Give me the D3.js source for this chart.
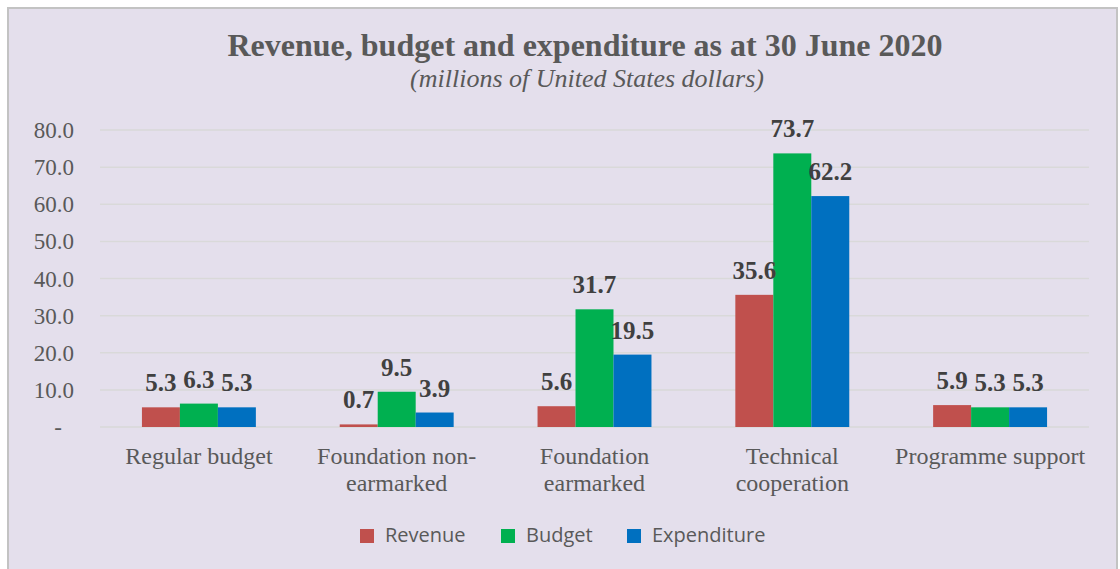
<!DOCTYPE html>
<html>
<head>
<meta charset="utf-8">
<script src="https://cdn.jsdelivr.net/npm/d3@7"></script>
<style>
  html, body { margin: 0; padding: 0; background: #fff; }
  svg { display: block; }
</style>
</head>
<body>
<script>
// Revenue, budget and expenditure grouped bars

const categories = ["Regular budget", "Foundation non-earmarked", "Foundation earmarked", "Technical cooperation", "Programme support"];
const categoryLines = [["Regular budget"], ["Foundation non-", "earmarked"], ["Foundation", "earmarked"], ["Technical", "cooperation"], ["Programme support"]];
const seriesNames = ["Revenue", "Budget", "Expenditure"];
const revenue = [5.3, 0.7, 5.6, 35.6, 5.9];
const budget = [6.3, 9.5, 31.7, 73.7, 5.3];
const expenditure = [5.3, 3.9, 19.5, 62.2, 5.3];
const yTicks = [0, 10, 20, 30, 40, 50, 60, 70, 80];

const colors = { Revenue: "#c0504d", Budget: "#00b050", Expenditure: "#0070c0" };

const width = 1120, height = 569;
const serif = "'Liberation Serif', 'Times New Roman', serif";

const svg = d3.select("body").append("svg")
    .attr("width", width)
    .attr("height", height);

// chart frame
svg.append("rect")
    .attr("x", 8).attr("y", 8)
    .attr("width", 1109).attr("height", 580)
    .attr("fill", "#e4dfec")
    .attr("stroke", "#c3c3c3")
    .attr("stroke-width", 2);

const x = d3.scaleBand()
    .domain(categories)
    .range([100, 1089])
    .paddingInner(0.424)
    .paddingOuter(0.212);

const xs = d3.scaleBand()
    .domain(seriesNames)
    .range([0, x.bandwidth()]);

const y = d3.scaleLinear()
    .domain([0, 80])
    .range([427, 130]);

// gridlines
svg.append("g")
    .selectAll("line")
    .data(yTicks)
    .join("line")
    .attr("x1", 100).attr("x2", 1089)
    .attr("y1", d => y(d)).attr("y2", d => y(d))
    .attr("stroke", "#d9d9d9")
    .attr("stroke-width", 1.5);

// y axis labels
svg.append("g")
    .selectAll("text")
    .data(yTicks)
    .join("text")
    .attr("x", d => d === 0 ? 62 : 74)
    .attr("y", d => y(d) + 8)
    .attr("text-anchor", "end")
    .attr("font-family", serif)
    .attr("font-size", 23)
    .attr("fill", "#595959")
    .text(d => d === 0 ? "-" : d3.format(".1f")(d));

const rows = categories.map((c, i) => ({
    cat: c,
    values: [
        { key: "Revenue", value: revenue[i] },
        { key: "Budget", value: budget[i] },
        { key: "Expenditure", value: expenditure[i] }
    ]
}));

const groups = svg.append("g")
    .selectAll("g")
    .data(rows)
    .join("g")
    .attr("transform", d => `translate(${x(d.cat)},0)`);

groups.selectAll("rect")
    .data(d => d.values)
    .join("rect")
    .attr("x", d => xs(d.key))
    .attr("y", d => y(d.value))
    .attr("width", xs.bandwidth())
    .attr("height", d => y(0) - y(d.value))
    .attr("fill", d => colors[d.key]);

groups.selectAll("text")
    .data(d => d.values)
    .join("text")
    .attr("x", d => xs(d.key) + xs.bandwidth() / 2)
    .attr("y", d => y(d.value) - 16)
    .attr("text-anchor", "middle")
    .attr("font-family", serif)
    .attr("font-weight", "bold")
    .attr("font-size", 25)
    .attr("fill", "#404040")
    .text(d => d3.format(".1f")(d.value));

// category labels
const catLabels = svg.append("g")
    .selectAll("text")
    .data(categories)
    .join("text")
    .attr("x", d => x(d) + x.bandwidth() / 2)
    .attr("y", 464)
    .attr("text-anchor", "middle")
    .attr("font-family", serif)
    .attr("font-size", 24)
    .attr("fill", "#595959");

catLabels.selectAll("tspan")
    .data((d, i) => categoryLines[i])
    .join("tspan")
    .attr("x", function () { return d3.select(this.parentNode).attr("x"); })
    .attr("dy", (d, i) => i === 0 ? 0 : 27)
    .text(d => d);

// title
svg.append("text")
    .attr("x", 585).attr("y", 56)
    .attr("text-anchor", "middle")
    .attr("font-family", serif)
    .attr("font-weight", "bold")
    .attr("font-size", 32)
    .attr("fill", "#595959")
    .text("Revenue, budget and expenditure as at 30 June 2020");

svg.append("text")
    .attr("x", 587).attr("y", 87)
    .attr("text-anchor", "middle")
    .attr("font-family", serif)
    .attr("font-style", "italic")
    .attr("font-size", 26)
    .attr("fill", "#595959")
    .text("(millions of United States dollars)");

// legend
const legendX = [360, 501, 627];
const legend = svg.append("g")
    .selectAll("g")
    .data(seriesNames)
    .join("g")
    .attr("transform", (d, i) => `translate(${legendX[i]},529)`);

legend.append("rect")
    .attr("width", 14).attr("height", 14)
    .attr("fill", d => colors[d]);

legend.append("text")
    .attr("x", 25).attr("y", 13)
    .attr("font-family", "Open Sans, sans-serif")
    .attr("font-size", 20)
    .attr("fill", "#595959")
    .text(d => d);
</script>
</body>
</html>
